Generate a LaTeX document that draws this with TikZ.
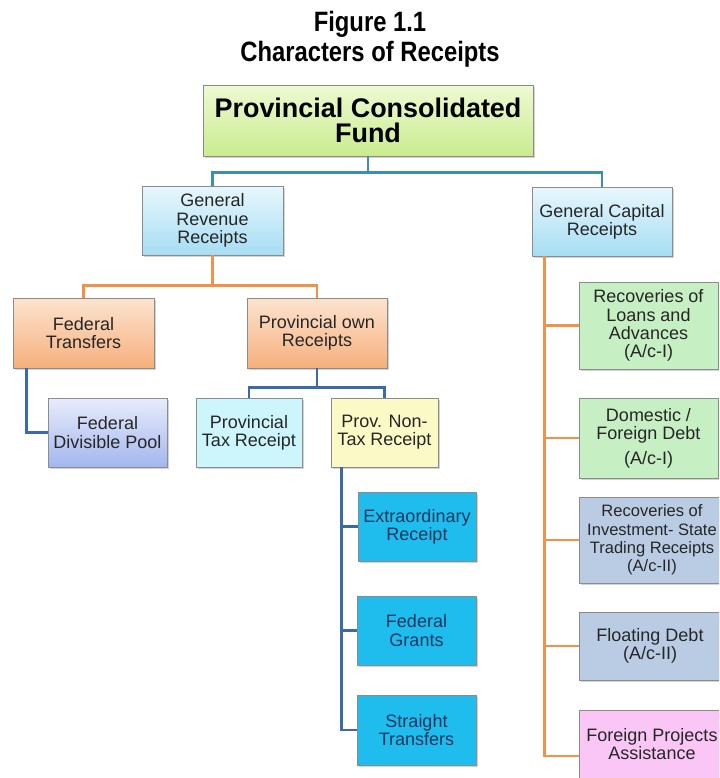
\documentclass[tikz,border=0pt]{standalone}
\usepackage{fontspec}
\setmainfont{Liberation Sans}
\newfontfamily\titlefont{Liberation Sans}[FakeStretch=0.85]
\usetikzlibrary{shadows}
\definecolor{fundtop}{HTML}{EEF9D2}
\definecolor{fundbot}{HTML}{C9EC8F}
\definecolor{revtop}{HTML}{E8F7FD}
\definecolor{revbot}{HTML}{A6DDF3}
\definecolor{ortop}{HTML}{FCE4D0}
\definecolor{orbot}{HTML}{F6AF7C}
\definecolor{pooltop}{HTML}{E8ECFB}
\definecolor{poolbot}{HTML}{A3B6EE}
\definecolor{taxfill}{HTML}{CCF5FC}
\definecolor{nontaxfill}{HTML}{FBFAC6}
\definecolor{skyfill}{HTML}{1FBDEE}
\definecolor{skytext}{HTML}{14375E}
\definecolor{loanfill}{HTML}{C6EFC3}
\definecolor{debtfill}{HTML}{B9CCE4}
\definecolor{pinkfill}{HTML}{F9C6F5}
\definecolor{linkblue}{HTML}{3E8DB4}
\definecolor{linkorange}{HTML}{F0924A}
\definecolor{linknavy}{HTML}{3A6BA8}
\begin{document}
\begin{tikzpicture}[x=0.75pt,y=-0.75pt,
  box/.style={draw=black!45, line width=0.6pt, align=center, inner sep=0pt,
    text=black!85, font=\fontsize{13.5}{13.7}\selectfont,
    drop shadow={shadow xshift=1.2pt, shadow yshift=-1.2pt, opacity=0.35}},
  boxsize/.style 2 args={minimum width=#1*0.75pt, minimum height=#2*0.75pt},
  blueconn/.style={draw=linkblue, line width=2pt},
  orangeconn/.style={draw=linkorange, line width=2pt},
  navyconn/.style={draw=linknavy, line width=2pt}]
\clip (0,0) rectangle (719,778);
\node[align=center, font=\titlefont\fontsize{21}{22.5}\selectfont\bfseries] (title) at (370,39) {Figure 1.1\\Characters of Receipts};
\node[box, boxsize={330}{71}, top color=fundtop, bottom color=fundbot, text=black,
  font=\fontsize{20.2}{18.8}\selectfont\bfseries] (fund) at (368,120.5) {Provincial Consolidated\\Fund};
\node[box, boxsize={141}{69}, top color=revtop, bottom color=revbot] (grr) at (212.5,220.5) {General\\Revenue\\Receipts};
\node[box, boxsize={140}{69}, top color=revtop, bottom color=revbot] (gcr) at (602,221.5) {General Capital\\Receipts};
\node[box, boxsize={141}{70}, top color=ortop, bottom color=orbot] (ft) at (83.5,333) {Federal\\Transfers};
\node[box, boxsize={140}{70}, top color=ortop, bottom color=orbot] (por) at (317,333) {Provincial own\\Receipts};
\node[box, boxsize={119}{69}, top color=pooltop, bottom color=poolbot] (fdp) at (107.5,432.5) {Federal\\Divisible Pool};
\node[box, boxsize={106}{69}, fill=taxfill] (ptr) at (249,432.5) {Provincial\\Tax Receipt};
\node[box, boxsize={107}{69}, fill=nontaxfill] (pntr) at (384.5,432.5) {Prov. Non-\\Tax Receipt};
\node[box, boxsize={118}{69}, fill=skyfill, text=skytext] (er) at (417,526.5) {Extraordinary\\Receipt};
\node[box, boxsize={119}{69}, fill=skyfill, text=skytext] (fg) at (416.5,630.5) {Federal\\Grants};
\node[box, boxsize={119}{70}, fill=skyfill, text=skytext] (st) at (416.5,730) {Straight\\Transfers};
\node[box, boxsize={139}{87}, fill=loanfill] (rla) at (648.5,325.5) {Recoveries of\\Loans and\\Advances\\(A/c-I)};
\node[box, boxsize={139}{80}, fill=loanfill] (dfd) at (648.5,438) {Domestic /\\Foreign Debt\\[5pt](A/c-I)};
\node[box, boxsize={146}{86}, fill=debtfill, font=\fontsize{12.4}{13.7}\selectfont] (rist) at (652,540) {Recoveries of\\Investment- State\\Trading Receipts\\(A/c-II)};
\node[box, boxsize={141}{68}, fill=debtfill] (fd) at (650,646) {Floating Debt\\(A/c-II)};
\node[box, boxsize={146}{68}, fill=pinkfill] (fpa) at (652,744) {Foreign Projects\\Assistance};
\draw[blueconn] (fund.south) -- ++(0,16) coordinate (split) -| (grr.north);
\draw[blueconn] (split) -| (gcr.north);
\draw[orangeconn] (grr.south) -- ++(0,30) coordinate (revsplit) -| (ft.north);
\draw[orangeconn] (revsplit) -| (por.north);
\draw[navyconn] ([xshift=10.5pt]ft.south west) |- (fdp.west);
\draw[navyconn] (por.south) -- ++(0,19) coordinate (ownsplit) -| (ptr.north);
\draw[navyconn] (ownsplit) -| (pntr.north);
\draw[navyconn] ([xshift=8.25pt]pntr.south west) coordinate (ntbus) |- (st.west);
\draw[navyconn] (er.west) -- (er.west -| ntbus);
\draw[navyconn] (fg.west) -- (fg.west -| ntbus);
\draw[orangeconn] ([xshift=9.75pt]gcr.south west) coordinate (capbus) |- ([yshift=-9pt]fpa.west);
\foreach \n in {rla,dfd,rist,fd}
  \draw[orangeconn] (\n.west) -- (\n.west -| capbus);
\end{tikzpicture}
\end{document}
